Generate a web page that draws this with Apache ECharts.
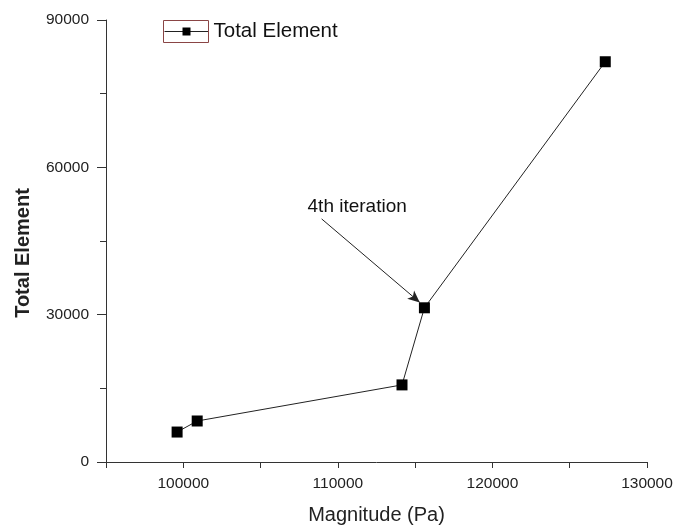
<!DOCTYPE html>
<html>
<head>
<meta charset="utf-8">
<title>Total Element</title>
<script src="https://cdn.jsdelivr.net/npm/echarts@6/dist/echarts.min.js"></script>
<style>
  html, body { margin: 0; padding: 0; background: #fff; }
  #chart { width: 673px; height: 527px; }
</style>
</head>
<body>
<div id="chart"></div>
<script>
// magnitude (Pa) and total element count per iteration
var magnitude = [99600, 100900, 114150, 115600, 127300];
var totalElement = [6100, 8350, 15700, 31400, 81500];
var xTicks = [100000, 110000, 120000, 130000];
// annotation: text position and arrow (start -> tip) in data units
var noteText = '4th iteration';
var notePos = [111250, 51900];
var arrowFrom = [108950, 49500];
var arrowTo = [115300, 32500];

var chart = echarts.init(document.getElementById('chart'));
var font = 'Liberation Sans, Arial, sans-serif';

var points = [];
for (var i = 0; i < magnitude.length; i++) {
  points.push([magnitude[i], totalElement[i]]);
}

var option = {
  animation: false,
  grid: { left: 106, right: 26, top: 20, bottom: 65, outerBoundsMode: 'none' },
  legend: {
    left: 164, top: 21, padding: 0,
    itemWidth: 44, itemHeight: 10, itemGap: 6,
    lineStyle: { width: 1 },
    textStyle: { fontFamily: font, fontSize: 20.5, color: '#111', padding: [0, 0, 0, 0] },
    data: ['Total Element']
  },
  graphic: [{
    type: 'rect',
    shape: { x: 163.5, y: 20.5, width: 45, height: 22 },
    style: { fill: 'none', stroke: '#8a4545', lineWidth: 1 },
    z: 100
  }],
  xAxis: {
    type: 'value',
    min: 95000, max: 130000, interval: 5000,
    name: 'Magnitude (Pa)',
    nameLocation: 'middle', nameGap: 43,
    nameTextStyle: { fontFamily: font, fontSize: 20, color: '#222' },
    axisLine: { lineStyle: { color: '#333', width: 1 } },
    axisTick: { length: 6, lineStyle: { color: '#333' } },
    axisLabel: {
      fontFamily: font, fontSize: 15.5, color: '#222', margin: 14,
      formatter: function (v) { return xTicks.indexOf(v) >= 0 ? String(v) : ''; }
    },
    splitLine: { show: false }
  },
  yAxis: {
    type: 'value',
    min: 0, max: 90000, interval: 30000,
    name: 'Total Element',
    nameLocation: 'middle', nameGap: 73,
    nameTextStyle: {
      fontFamily: font, fontSize: 20, fontWeight: 'bold', color: '#222',
      padding: [0, 24, 0, 0]
    },
    axisLine: { show: true, lineStyle: { color: '#333', width: 1 } },
    axisTick: { show: true, length: 9, lineStyle: { color: '#333' } },
    minorTick: { show: true, splitNumber: 2, length: 6, lineStyle: { color: '#333' } },
    axisLabel: {
      fontFamily: font, fontSize: 15.5, color: '#222', margin: 17,
      formatter: function (v) { return String(v); }
    },
    splitLine: { show: false }
  },
  series: [{
    name: 'Total Element',
    type: 'line',
    data: points,
    symbol: 'rect',
    symbolSize: 11,
    lineStyle: { color: '#222', width: 1 },
    itemStyle: { color: '#000' },
    markPoint: {
      symbol: 'circle', symbolSize: 0,
      label: {
        show: true, formatter: noteText,
        fontFamily: font, fontSize: 19, color: '#111'
      },
      data: [{ coord: notePos }]
    },
    markLine: {
      silent: true,
      symbol: ['none', 'arrow'],
      symbolSize: [8, 12],
      label: { show: false },
      lineStyle: { color: '#222', width: 1, type: 'solid' },
      data: [[{ coord: arrowFrom }, { coord: arrowTo }]]
    }
  }]
};
chart.setOption(option);
</script>
</body>
</html>
